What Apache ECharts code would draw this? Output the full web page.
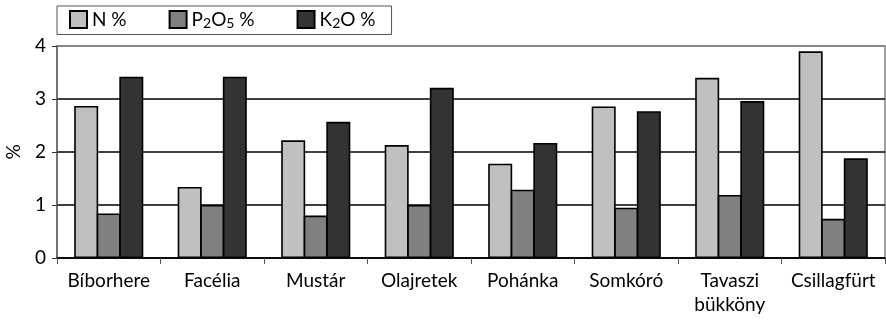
<!DOCTYPE html>
<html>
<head>
<meta charset="utf-8">
<script src="https://cdn.jsdelivr.net/npm/echarts@6/dist/echarts.min.js"></script>
<style>
  html, body { margin: 0; padding: 0; background: #fff; }
  #chart { width: 886px; height: 321px; }
</style>
</head>
<body>
<div id="chart"></div>
<script>
// Nutrient content of cover crops (%)
const categories = ['Bíborhere', 'Facélia', 'Mustár', 'Olajretek', 'Pohánka', 'Somkóró', 'Tavaszi\nbükköny', 'Csillagfürt'];
const nValues   = [2.87, 1.34, 2.22, 2.13, 1.78, 2.86, 3.40, 3.90];
const p2o5Values = [0.84, 1.00, 0.80, 1.00, 1.29, 0.95, 1.19, 0.74];
const k2oValues = [3.42, 3.42, 2.57, 3.21, 2.17, 2.77, 2.96, 1.88];
const yTicks = [0, 1, 2, 3, 4];
const seriesNames = ['N %', 'P2O5 %', 'K2O %'];
// legend labels with real subscripts
const legendRich = {
  'N %': '{n|N %}',
  'P2O5 %': '{n|P}{s|2}{n|O}{s|5}{n| %}',
  'K2O %': '{n|K}{s|2}{n|O %}'
};

const FONT = 'Lato';
const chart = echarts.init(document.getElementById('chart'), null, { renderer: 'canvas' });

// adjacent bars share one outline
function barSeries(name, data, color) {
  return {
    name: name,
    type: 'bar',
    data: data,
    barWidth: 24,
    barGap: '-6%',
    itemStyle: { color: color, borderColor: '#000', borderWidth: 1.6 },
    emphasis: { disabled: true }
  };
}

chart.setOption({
  animation: false,
  textStyle: { fontFamily: FONT, color: '#000' },
  grid: {
    left: 57, right: 1, top: 46, bottom: 63,
    containLabel: false, outerBoundsMode: 'none',
    show: true, borderColor: '#808080', borderWidth: 1.5, backgroundColor: 'transparent'
  },
  legend: {
    left: 57, top: 6,
    padding: [4, 16, 4, 12],
    itemWidth: 17, itemHeight: 17, itemGap: 42,
    borderColor: '#555', borderWidth: 1,
    backgroundColor: '#fff',
    icon: 'rect',
    formatter: function (name) { return legendRich[name]; },
    textStyle: {
      fontFamily: FONT, color: '#000',
      rich: {
        n: { fontFamily: FONT, fontSize: 19, lineHeight: 22, color: '#000' },
        s: { fontFamily: FONT, fontSize: 14, lineHeight: 12, verticalAlign: 'bottom', color: '#000' }
      }
    }
  },
  xAxis: {
    type: 'category',
    data: categories,
    axisLine: { lineStyle: { color: '#000', width: 1.5 } },
    axisTick: { show: true, alignWithLabel: false, length: 6, lineStyle: { color: '#555' } },
    axisLabel: { fontFamily: FONT, fontSize: 19, color: '#000', margin: 11, lineHeight: 24, interval: 0 }
  },
  yAxis: {
    type: 'value',
    min: yTicks[0], max: yTicks[yTicks.length - 1], interval: 1,
    name: '%', nameLocation: 'middle', nameGap: 34, nameRotate: 90,
    nameTextStyle: { fontFamily: FONT, fontSize: 19, color: '#000' },
    axisLine: { show: true, lineStyle: { color: '#666', width: 1.5 } },
    axisTick: { show: true, length: 5, lineStyle: { color: '#333' } },
    axisLabel: { fontFamily: FONT, fontSize: 19, color: '#000', margin: 11 },
    splitLine: { show: true, lineStyle: { color: ['#000', '#000', '#000', '#000', '#808080'], width: 1.5 } }
  },
  series: [
    barSeries(seriesNames[0], nValues, '#c0c0c0'),
    barSeries(seriesNames[1], p2o5Values, '#808080'),
    barSeries(seriesNames[2], k2oValues, '#333333')
  ]
});
</script>
</body>
</html>
